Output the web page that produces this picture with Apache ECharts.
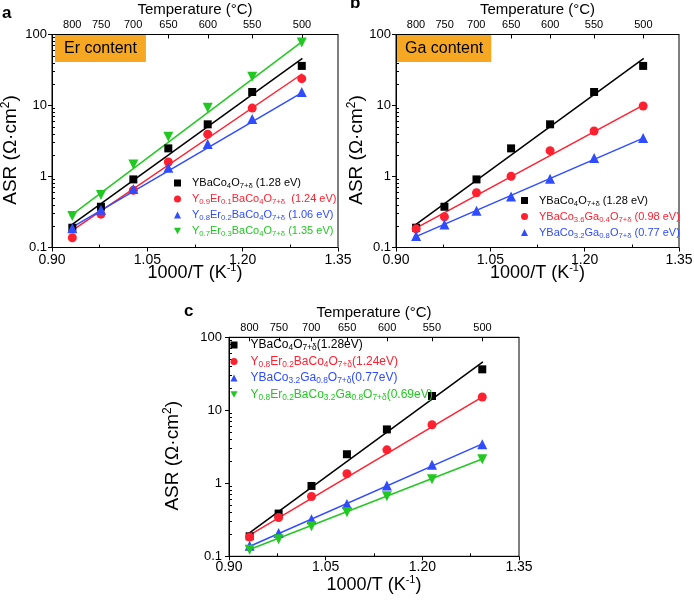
<!DOCTYPE html>
<html><head><meta charset="utf-8">
<script src="https://cdn.jsdelivr.net/npm/echarts@6/dist/echarts.min.js"></script>
<style>html,body{margin:0;padding:0;background:#fff}#c{width:694px;height:602px}</style>
</head><body><div id="c"></div>
<script>
// ---------- data ----------
const xValues = [0.932, 0.977, 1.028, 1.083, 1.145, 1.215, 1.293];   // 1000/T (K^-1)
const tempTicks = [800, 750, 700, 650, 600, 550, 500];                // °C (top axis)
const xMinorTicks = [0.975, 1.125, 1.275];

// panel a
const aYBCO = [0.19, 0.375, 0.91, 2.49, 5.43, 15.5, 36.1];
const aEr01 = [0.137, 0.295, 0.64, 1.6, 3.95, 9.2, 23.9];
const aEr02 = [0.186, 0.34, 0.665, 1.33, 2.87, 6.46, 15.5];
const aEr03 = [0.277, 0.547, 1.48, 3.64, 9.3, 25.5, 77];
// panel b
const bYBCO = [0.19, 0.375, 0.91, 2.49, 5.43, 15.5, 36.1];
const bGa04 = [0.183, 0.271, 0.59, 1.01, 2.31, 4.37, 9.85];
const bGa08 = [0.145, 0.211, 0.329, 0.523, 0.93, 1.82, 3.48];
// panel c
const cYBCO = [0.188, 0.385, 0.92, 2.5, 5.47, 15.7, 36.4];
const cEr02 = [0.184, 0.34, 0.66, 1.35, 2.87, 6.33, 15.2];
const cGa08 = [0.14, 0.209, 0.322, 0.52, 0.93, 1.79, 3.44];
const cErGa = [0.123, 0.171, 0.258, 0.40, 0.665, 1.14, 2.14];

// Arrhenius fit lines (end points)
const fitX = [0.928, 1.294];
const fitAYBCO = [0.2, 46];
const fitAEr01 = [0.165, 28];
const fitAEr02 = [0.185, 15.3];
const fitAEr03 = [0.275, 80];
const fitBYBCO = [0.2, 46];
const fitBGa04 = [0.18, 10.2];
const fitBGa08 = [0.138, 3.5];
const fitCYBCO = [0.198, 46];
const fitCEr02 = [0.186, 15.4];
const fitCGa08 = [0.132, 3.5];
const fitCErGa = [0.12, 2.17];

// legend labels ( _{...} = subscript )
const labelsA = ['YBaCo_{4}O_{7+δ} (1.28 eV)', 'Y_{0.9}Er_{0.1}BaCo_{4}O_{7+δ}  (1.24 eV)', 'Y_{0.8}Er_{0.2}BaCo_{4}O_{7+δ} (1.06 eV)', 'Y_{0.7}Er_{0.3}BaCo_{4}O_{7+δ} (1.35 eV)'];
const labelsB = ['YBaCo_{4}O_{7+δ} (1.28 eV)', 'YBaCo_{3.6}Ga_{0.4}O_{7+δ} (0.98 eV)', 'YBaCo_{3.2}Ga_{0.8}O_{7+δ} (0.77 eV)'];
const labelsC = ['YBaCo_{4}O_{7+δ}(1.28eV)', 'Y_{0.8}Er_{0.2}BaCo_{4}O_{7+δ}(1.24eV)', 'YBaCo_{3.2}Ga_{0.8}O_{7+δ}(0.77eV)', 'Y_{0.8}Er_{0.2}BaCo_{3.2}Ga_{0.8}O_{7+δ}(0.69eV)'];

// ---------- styles ----------
const COL = {k: '#000000', r: '#ff2030', b: '#2f4cff', g: '#22c822'};
const SYM = {
  k: {symbol: 'rect', size: 8},
  r: {symbol: 'circle', size: 9},
  b: {symbol: 'triangle', size: 10},
  g: {symbol: 'path://M0,0L10,0L5,9Z', size: 10}
};
const FONT = 'Liberation Sans, Arial, Helvetica, sans-serif';

const panels = [
  {id: 'a', grid: {left: 52, top: 34.5, width: 286, height: 213},
   series: [[aYBCO, fitAYBCO, 'k'], [aEr01, fitAEr01, 'r'], [aEr02, fitAEr02, 'b'], [aEr03, fitAEr03, 'g']],
   labels: labelsA, legend: {left: 174, top: 177.5, fs: 11, pad: 6},
   yNameGap: 30, xNameGap: 15, xLabelMargin: 6, yLabelMargin: 5,
   letter: {left: 2, top: 5}, box: {text: 'Er content', left: 55, top: 35, pad: [5.5, 9, 5.5, 9]}},
  {id: 'b', grid: {left: 396, top: 34.5, width: 283, height: 213},
   series: [[bYBCO, fitBYBCO, 'k'], [bGa04, fitBGa04, 'r'], [bGa08, fitBGa08, 'b']],
   labels: labelsB, legend: {left: 521, top: 195, fs: 11, pad: 6},
   yNameGap: 28, xNameGap: 15, xLabelMargin: 6, yLabelMargin: 5,
   letter: {left: 350, top: -5}, box: {text: 'Ga content', left: 397, top: 35, pad: [5.5, 8, 5.5, 8]}},
  {id: 'c', grid: {left: 229, top: 337.3, width: 290, height: 219},
   series: [[cYBCO, fitCYBCO, 'k'], [cEr02, fitCEr02, 'r'], [cGa08, fitCGa08, 'b'], [cErGa, fitCErGa, 'g']],
   labels: labelsC, legend: {left: 230.5, top: 339, fs: 12, pad: 8},
   yNameGap: 45, xNameGap: 18, xLabelMargin: 4, yLabelMargin: 7,
   letter: {left: 184, top: 303}, box: null}
];

// ---------- helpers ----------
function toRich(label, key) {
  return label.split(/_\{([^}]*)\}/).map((s, i) => s === '' ? '' : '{' + key + (i % 2 ? 's' : '') + '|' + s + '}').join('');
}
function legendRich(fs) {
  const out = {};
  Object.keys(COL).forEach(k => {
    out[k] = {color: COL[k], fontSize: fs, lineHeight: 14, fontFamily: FONT};
    out[k + 's'] = {color: COL[k], fontSize: Math.round(fs * 0.7 * 10) / 10, lineHeight: 8, verticalAlign: 'bottom', fontFamily: FONT};
  });
  return out;
}
const tempPos = tempTicks.map(t => 1000 / (t + 273.15));
const yMinorPos = [];
for (let e = -1; e <= 1; e++) for (let k = 2; k <= 9; k++) yMinorPos.push(e + Math.log10(k));

const grid = [], xAxis = [], yAxis = [], series = [], legend = [], title = [];
const nameMap = {};

panels.forEach((p, pi) => {
  grid.push(Object.assign({show: true, borderColor: '#000', borderWidth: 1, backgroundColor: 'transparent', containLabel: false, outerBoundsMode: 'none'}, p.grid));
  const axisLine = {show: true, onZero: false, lineStyle: {color: '#000', width: 1}};
  xAxis.push({gridIndex: pi, type: 'value', position: 'bottom', min: 0.9, max: 1.35, interval: 0.15,
    axisLine, axisTick: {show: true, length: 4, lineStyle: {color: '#000'}},
    axisLabel: {color: '#000', fontSize: 14, margin: p.xLabelMargin, fontFamily: FONT, showMinLabel: true, showMaxLabel: true, formatter: v => v.toFixed(2)},
    splitLine: {show: false},
    name: '{n|1000/T (K}{sup|-1}{n|)}', nameLocation: 'middle', nameGap: p.xNameGap, nameMoveOverlap: false,
    nameTextStyle: {rich: {n: {fontSize: 18, lineHeight: 22, color: '#000', fontFamily: FONT}, sup: {fontSize: 11, lineHeight: 10, verticalAlign: 'top', color: '#000', fontFamily: FONT}}}});
  xAxis.push({gridIndex: pi, type: 'value', position: 'top', min: 0.9, max: 1.35,
    axisLine, axisTick: {show: true, inside: true, length: 4, customValues: tempPos, lineStyle: {color: '#000'}},
    axisLabel: {color: '#000', fontSize: 11, margin: 4, fontFamily: FONT, customValues: tempPos, formatter: v => String(Math.round(1000 / v - 273.15))},
    splitLine: {show: false},
    name: 'Temperature (°C)', nameLocation: 'middle', nameGap: 17, nameMoveOverlap: false,
    nameTextStyle: {fontSize: 15, color: '#000', fontFamily: FONT}});
  xAxis.push({gridIndex: pi, type: 'value', position: 'bottom', min: 0.9, max: 1.35,
    axisLine: {show: false, onZero: false}, axisLabel: {show: false}, splitLine: {show: false},
    axisTick: {show: true, inside: true, length: 3, customValues: xMinorTicks, lineStyle: {color: '#000'}}});
  yAxis.push({gridIndex: pi, type: 'log', logBase: 10, min: 0.1, max: 100, position: 'left',
    axisLine, axisTick: {show: true, length: 4, lineStyle: {color: '#000'}},
    axisLabel: {color: '#000', fontSize: 13, margin: p.yLabelMargin, fontFamily: FONT, showMinLabel: true, showMaxLabel: true, formatter: v => String(+(+v).toPrecision(3))},
    splitLine: {show: false},
    name: '{n|ASR (Ω·cm}{sup|2}{n|)}', nameLocation: 'middle', nameGap: p.yNameGap, nameMoveOverlap: false,
    nameTextStyle: {padding: [0, 18, 0, 0], rich: {n: {fontSize: 19, lineHeight: 22, color: '#000', fontFamily: FONT}, sup: {fontSize: 12, lineHeight: 10, verticalAlign: 'top', color: '#000', fontFamily: FONT}}}});
  yAxis.push({gridIndex: pi, type: 'value', min: -1, max: 2, position: 'left',
    axisLine: {show: false, onZero: false}, axisLabel: {show: false}, splitLine: {show: false},
    axisTick: {show: true, inside: true, length: 3, customValues: yMinorPos, lineStyle: {color: '#000'}}});

  const names = [];
  p.series.forEach(([vals, fit, key], si) => {
    const name = p.id + si;
    names.push(name);
    nameMap[name] = toRich(p.labels[si], key);
    series.push({type: 'line', name: name + '_fit', xAxisIndex: pi * 3, yAxisIndex: pi * 2,
      data: fitX.map((x, i) => [x, fit[i]]), symbol: 'none', silent: true, z: 2,
      lineStyle: {color: COL[key], width: 1.5}});
    series.push({type: 'scatter', name, xAxisIndex: pi * 3, yAxisIndex: pi * 2,
      data: xValues.map((x, i) => [x, vals[i]]), symbol: SYM[key].symbol, symbolSize: SYM[key].size,
      itemStyle: {color: COL[key], opacity: 1}, z: 3});
  });
  legend.push({data: names, orient: 'vertical', left: p.legend.left, top: p.legend.top, padding: 0,
    itemWidth: 7, itemHeight: 7, itemGap: 3.5, selectedMode: false,
    formatter: n => nameMap[n], textStyle: {padding: [0, 0, 0, p.legend.pad], rich: legendRich(p.legend.fs)}});

  title.push({text: p.id, left: p.letter.left, top: p.letter.top, padding: 0,
    textStyle: {fontSize: 17, fontWeight: 'bold', color: '#000', fontFamily: FONT}});
  if (p.box) {
    title.push({text: p.box.text, left: p.box.left, top: p.box.top, padding: p.box.pad, backgroundColor: '#f7a823',
      textStyle: {fontSize: 16, fontWeight: 'normal', color: '#000', fontFamily: FONT}});
  }
});

const chart = echarts.init(document.getElementById('c'), null, {renderer: 'canvas'});
chart.setOption({
  animation: false,
  backgroundColor: '#fff',
  textStyle: {fontFamily: FONT},
  title, grid, xAxis, yAxis, legend, series,
  tooltip: {show: false}
});
</script></body></html>
